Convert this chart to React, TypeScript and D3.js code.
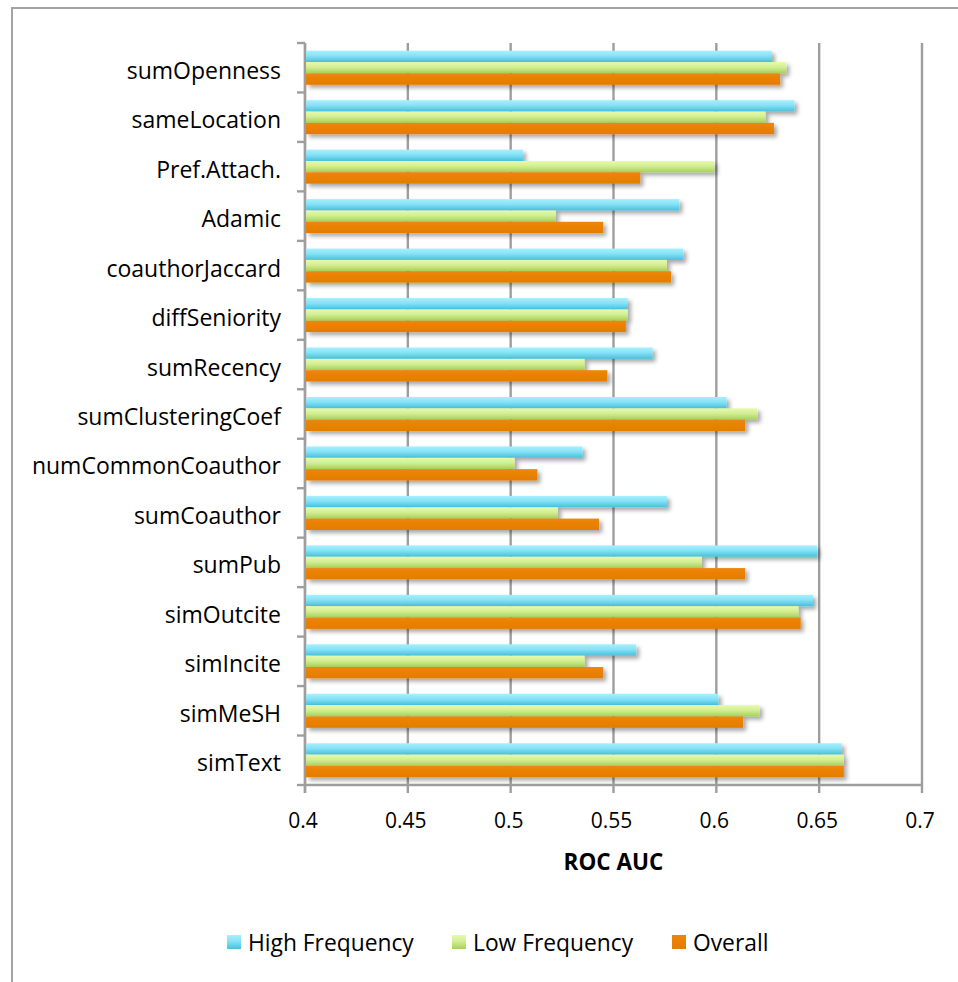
import React from "react";
import * as d3 from "d3";

// ROC AUC per feature, for three evaluation subsets
const categories = [
  "sumOpenness",
  "sameLocation",
  "Pref.Attach.",
  "Adamic",
  "coauthorJaccard",
  "diffSeniority",
  "sumRecency",
  "sumClusteringCoef",
  "numCommonCoauthor",
  "sumCoauthor",
  "sumPub",
  "simOutcite",
  "simIncite",
  "simMeSH",
  "simText",
];

const seriesNames = ["High Frequency", "Low Frequency", "Overall"];

const highFrequency = [0.627, 0.638, 0.506, 0.582, 0.584, 0.557, 0.569, 0.605, 0.535, 0.576, 0.649, 0.647, 0.561, 0.601, 0.661];
const lowFrequency = [0.634, 0.624, 0.599, 0.522, 0.576, 0.557, 0.536, 0.620, 0.502, 0.523, 0.593, 0.640, 0.536, 0.621, 0.662];
const overall = [0.631, 0.628, 0.563, 0.545, 0.578, 0.556, 0.547, 0.614, 0.513, 0.543, 0.614, 0.641, 0.545, 0.613, 0.662];

const xTicks = [0.4, 0.45, 0.5, 0.55, 0.6, 0.65, 0.7];
const xDomain = [0.4, 0.7];
const axisTitle = "ROC AUC";

const seriesValues = [highFrequency, lowFrequency, overall];

const WIDTH = 958;
const HEIGHT = 982;
const plot = { left: 305, right: 922, top: 43, bottom: 785 };
const FONT = "'Open Sans', 'Liberation Sans', sans-serif";
const GRID = "#9e9e9e";
const fills = ["url(#gBlue)", "url(#gGreen)", "url(#gOrange)"];

export default function App() {
  const x = d3.scaleLinear().domain(xDomain).range([plot.left, plot.right]);
  const y = d3
    .scaleBand<string>()
    .domain(categories)
    .range([plot.top, plot.bottom])
    .paddingInner(0)
    .paddingOuter(0);
  const sub = d3
    .scaleBand<string>()
    .domain(seriesNames)
    .range([0, y.bandwidth()])
    .paddingInner(0)
    .paddingOuter(0.68);

  const boundaries = d3.range(categories.length + 1).map((i) => plot.top + i * y.step());

  const legendItems = [
    { name: seriesNames[0], x: 227, fill: fills[0] },
    { name: seriesNames[1], x: 452, fill: fills[1] },
    { name: seriesNames[2], x: 672, fill: fills[2] },
  ];

  return (
    <svg
      width={WIDTH}
      height={HEIGHT}
      style={{ position: "absolute", left: 0, top: 0, background: "#fff" }}
      fontFamily={FONT}
    >
      <defs>
        <linearGradient id="gBlue" x1="0" y1="0" x2="0" y2="1">
          <stop offset="0" stopColor="#a6f0fd" />
          <stop offset="0.45" stopColor="#86e2f6" />
          <stop offset="1" stopColor="#48c0dc" />
        </linearGradient>
        <linearGradient id="gGreen" x1="0" y1="0" x2="0" y2="1">
          <stop offset="0" stopColor="#e6faad" />
          <stop offset="0.45" stopColor="#d3ee93" />
          <stop offset="1" stopColor="#a6d05a" />
        </linearGradient>
        <linearGradient id="gOrange" x1="0" y1="0" x2="0" y2="1">
          <stop offset="0" stopColor="#ee8508" />
          <stop offset="1" stopColor="#e47c02" />
        </linearGradient>
        <filter id="barShadow" x="-5%" y="-40%" width="115%" height="200%">
          <feDropShadow dx="3" dy="3" stdDeviation="2.2" floodColor="#000" floodOpacity="0.35" />
        </filter>
      </defs>

      {/* chart frame */}
      <rect x={12} y={8} width={1000} height={1000} fill="none" stroke="#a3a3a3" strokeWidth={2} />

      {/* vertical gridlines with tick marks below the axis */}
      {xTicks.map((t) => (
        <line
          key={`g${t}`}
          x1={x(t)}
          x2={x(t)}
          y1={plot.top}
          y2={plot.bottom + 8}
          stroke={GRID}
          strokeWidth={2.4}
        />
      ))}

      {/* bottom axis */}
      <line x1={plot.left} x2={plot.right} y1={plot.bottom} y2={plot.bottom} stroke={GRID} strokeWidth={2.4} />

      {/* category axis with tick marks between bands */}
      <line x1={plot.left} x2={plot.left} y1={plot.top} y2={plot.bottom + 8} stroke={GRID} strokeWidth={2.4} />
      {boundaries.map((b, i) => (
        <line key={`t${i}`} x1={plot.left - 8} x2={plot.left} y1={b} y2={b} stroke={GRID} strokeWidth={2.4} />
      ))}

      {/* bars */}
      {categories.map((c, ci) => (
        <g key={c}>
          {seriesNames.map((s, si) => {
            const v = seriesValues[si][ci];
            const y0 = (y(c) ?? 0) + (sub(s) ?? 0);
            return (
              <rect
                key={s}
                x={x(xDomain[0]) + 1}
                y={y0}
                width={x(v) - x(xDomain[0]) - 1}
                height={sub.bandwidth()}
                fill={fills[si]}
                filter="url(#barShadow)"
              />
            );
          })}
        </g>
      ))}

      {/* category labels */}
      {categories.map((c) => (
        <text
          key={`l${c}`}
          x={281}
          y={(y(c) ?? 0) + y.bandwidth() / 2 + 11}
          textAnchor="end"
          fontSize={23}
          fill="#000"
        >
          {c}
        </text>
      ))}

      {/* value tick labels */}
      {xTicks.map((t) => (
        <text key={`x${t}`} x={x(t) - 2} y={828} textAnchor="middle" fontSize={21} fill="#000">
          {String(t)}
        </text>
      ))}

      <text x={(plot.left + plot.right) / 2} y={870} textAnchor="middle" fontSize={22.5} fontWeight="bold" fill="#000">
        {axisTitle}
      </text>

      {/* legend */}
      {legendItems.map((d) => (
        <g key={d.name}>
          <rect x={d.x} y={935} width={14} height={14} fill={d.fill} />
          <text x={d.x + 21} y={951} fontSize={22.8} fill="#000">
            {d.name}
          </text>
        </g>
      ))}
    </svg>
  );
}
